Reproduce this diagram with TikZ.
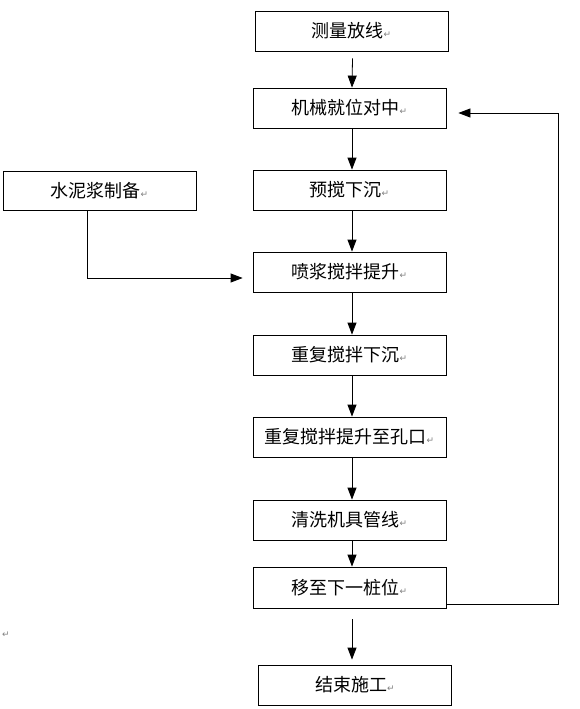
\documentclass[tikz,border=0pt]{standalone}
\usepackage{fontspec}
\usepackage{xcolor}
\usepackage{tikz}
\usetikzlibrary{arrows.meta}
\newfontfamily\cjk{Noto Sans CJK SC}
\newfontfamily\marksfont{DejaVu Sans}
\newcommand*{\pmark}{{\marksfont\fontsize{9}{9}\selectfont\textcolor{gray}{↵}}}

\begin{document}
\begin{tikzpicture}[x=1pt,y=-1pt,line width=0.8pt,
  paso/.style={draw,minimum width=193pt,minimum height=40pt,inner sep=0pt,font=\cjk\fontsize{18}{21}\selectfont},
  flecha/.style={-{Triangle[length=12pt,width=9pt]}}]
\useasboundingbox(0,0)rectangle(580,709);

\node[paso](med)at(351.5,31){测量放线\pmark};
\node[paso](cen)at(349.5,108){机械就位对中\pmark};
\node[paso](baj)at(349.5,190){预搅下沉\pmark};
\node[paso](iny)at(349.5,272){喷浆搅拌提升\pmark};
\node[paso](rba)at(349.5,355){重复搅拌下沉\pmark};
\node[paso](rsu)at(349.5,437){重复搅拌提升至孔口\pmark};
\node[paso](lim)at(349.5,520){清洗机具管线\pmark};
\node[paso,minimum height=41pt](mov)at(349.5,587.5){移至下一桩位\pmark};
\node[paso](fin)at(355,685){结束施工\pmark};
\node[paso,minimum height=39pt](lec)at(99.5,190.5){水泥浆制备\pmark};
\node(par)at(6,635){\pmark};

\draw[flecha]([xshift=1pt,yshift=-7pt]med.south)--([xshift=2.5pt]cen.north);
\draw[flecha]([xshift=2.5pt]cen.south)--([xshift=2.5pt]baj.north);
\draw[flecha]([xshift=2.5pt]baj.south)--([xshift=2.5pt]iny.north);
\draw[flecha]([xshift=2.5pt]iny.south)--([xshift=2.5pt]rba.north);
\draw[flecha]([xshift=2.5pt]rba.south)--([xshift=2.5pt]rsu.north);
\draw[flecha]([xshift=2.5pt]rsu.south)--([xshift=2.5pt]lim.north);
\draw[flecha]([xshift=2.5pt]lim.south)--([xshift=2.5pt]mov.north);
\draw[flecha]([xshift=2.5pt,yshift=-11pt]mov.south)--([xshift=-3pt,yshift=5pt]fin.north);

\coordinate(ret)at(558,113);
\draw[flecha]([yshift=-16.5pt]mov.east)-|(ret)--([xshift=12pt]cen.east|-ret);
\coordinate(cod)at(87,278);
\draw[flecha]([xshift=-12.5pt]lec.south)|-(cod)--([xshift=-10pt]iny.west|-cod);

\end{tikzpicture}
\end{document}
